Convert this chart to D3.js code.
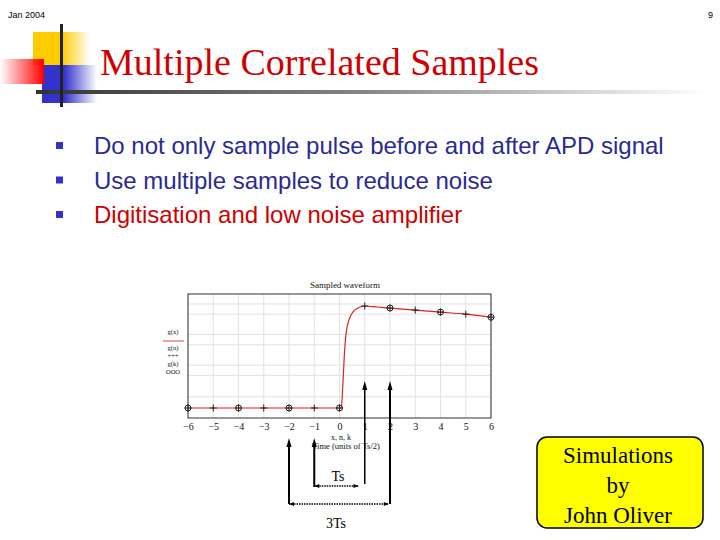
<!DOCTYPE html>
<html><head><meta charset="utf-8">
<script src="https://cdn.jsdelivr.net/npm/d3@7"></script>
<style>html,body{margin:0;padding:0;background:#fff;}svg{display:block;}</style>
</head><body>
<svg id="c" width="720" height="540"></svg>
<script>
// ---- data ----
const bullets = ["Do not only sample pulse before and after APD signal","Use multiple samples to reduce noise","Digitisation and low noise amplifier"];
const xTicks = [-6,-5,-4,-3,-2,-1,0,1,2,3,4,5,6];
const curveX = [-6, 0, 0.07, 0.13, 0.2, 0.27, 0.4, 0.53, 0.73, 1, 1.5, 2, 3, 4, 5, 6];
const curveY = [0, 0, 0, 0.22, 0.55, 0.75, 0.88, 0.94, 0.98, 1, 0.99, 0.98, 0.96, 0.94, 0.92, 0.89];
const nX = [-6,-5,-4,-3,-2,-1,0,1,2,3,4,5,6];
const nY = [0,0,0,0,0,0,0,1,0.98,0.96,0.94,0.92,0.89];
const kX = [-6,-4,-2,0,2,4,6];
const kY = [0,0,0,0,0.98,0.94,0.89];
const yGrid = [1.02,0.92,0.72,0.62,0.42,0.32,0.11];
const legendLabels = ["g(x)","g(n)","+++","g(k)","OOO"];
const boxLines = ["Simulations","by","John Oliver"];

(function(){
const svg = d3.select("#c");
const defs = svg.append("defs");
function grad(id, x1, x2, stops){
  const g = defs.append("linearGradient").attr("id", id).attr("x1",x1).attr("x2",x2).attr("y1","0").attr("y2","0");
  stops.forEach(s=>g.append("stop").attr("offset",s[0]).attr("stop-color",s[1]).attr("stop-opacity",s[2]));
}
grad("gy","0","1",[["0","#ffcc00",1],["0.5","#ffcc00",1],["1","#ffcc00",0]]);
grad("gb","0","1",[["0","#3333cc",1],["0.4","#3333cc",1],["1","#3333cc",0]]);
grad("gr","0","1",[["0","#ff0000",0],["1","#ff0000",1]]);
grad("gl","0","1",[["0","#333333",1],["0.5","#888888",1],["1","#ffffff",1]]);

// header
svg.append("text").attr("x",8).attr("y",18).attr("font-family","Liberation Sans, Arial").attr("font-size",9).text("Jan 2004");
svg.append("text").attr("x",713).attr("y",18).attr("text-anchor","end").attr("font-family","Liberation Sans, Arial").attr("font-size",9).text("9");

// decoration
svg.append("rect").attr("x",33).attr("y",32).attr("width",57).attr("height",33).attr("fill","url(#gy)");
svg.append("rect").attr("x",42).attr("y",65).attr("width",55).attr("height",38).attr("fill","url(#gb)");
svg.append("rect").attr("x",0).attr("y",59).attr("width",44).attr("height",25).attr("fill","url(#gr)");
svg.append("rect").attr("x",36).attr("y",90).attr("width",670).attr("height",4).attr("fill","url(#gl)");
svg.append("rect").attr("x",60).attr("y",24).attr("width",3).attr("height",83).attr("fill","#222");

svg.append("text").attr("x",100).attr("y",75).attr("font-family","Liberation Serif, Times New Roman").attr("font-size",38).attr("fill","#cc0000").text("Multiple Correlated Samples");

// bullets
bullets.forEach((b,i)=>{
  const yy = 154 + i*34.5;
  svg.append("rect").attr("x",56).attr("y",yy-12).attr("width",7).attr("height",7).attr("fill","#3333cc");
  svg.append("text").attr("x",94).attr("y",yy).attr("font-family","Liberation Sans, Arial").attr("font-size",24)
    .attr("fill", i<2 ? "#2b2b8f" : "#cc0000").text(b);
});

// chart
const x = d3.scaleLinear().domain([-6,6]).range([188,491]);
const y = d3.scaleLinear().domain([0,1]).range([408,306]);
const pTop = 294, pBottom = 418;
const g = svg.append("g");
g.selectAll(".vg").data(xTicks).join("line").attr("x1",d=>x(d)).attr("x2",d=>x(d)).attr("y1",pTop).attr("y2",pBottom).attr("stroke","#e2e2e2").attr("stroke-width",1);
g.selectAll(".hg").data(yGrid).join("line").attr("x1",x(-6)).attr("x2",x(6)).attr("y1",d=>y(d)).attr("y2",d=>y(d)).attr("stroke","#e2e2e2").attr("stroke-width",1);
g.append("rect").attr("x",x(-6)).attr("y",pTop).attr("width",x(6)-x(-6)).attr("height",pBottom-pTop).attr("fill","none").attr("stroke","#333").attr("stroke-width",1);

const line = d3.line().x((d,i)=>x(curveX[i])).y((d,i)=>y(curveY[i])).curve(d3.curveMonotoneX);
g.append("path").attr("d",line(curveX)).attr("fill","none").attr("stroke","#dd2222").attr("stroke-width",1.2);

nX.forEach((v,i)=>{
  const cx=x(v), cy=y(nY[i]);
  g.append("path").attr("d",`M${cx-3.5},${cy}H${cx+3.5}M${cx},${cy-3.5}V${cy+3.5}`).attr("stroke","#222").attr("stroke-width",1);
});
kX.forEach((v,i)=>{
  g.append("circle").attr("cx",x(v)).attr("cy",y(kY[i])).attr("r",3).attr("fill","none").attr("stroke","#222").attr("stroke-width",1);
});

const axis = d3.axisBottom(x).tickValues(xTicks).tickSize(0).tickFormat(d=>d<0?"\u2212"+(-d):String(d));
const ax = g.append("g").attr("transform",`translate(0,${pBottom})`).call(axis);
ax.select(".domain").remove();
ax.selectAll("text").attr("font-family","Liberation Serif, Times New Roman").attr("font-size",10).attr("fill","#111").attr("dy","0.9em").attr("y",3);

g.append("text").attr("x",345).attr("y",288).attr("text-anchor","middle").attr("font-family","Liberation Serif, Times New Roman").attr("font-size",9).attr("fill","#111").text("Sampled waveform");
g.append("text").attr("x",341).attr("y",440).attr("text-anchor","middle").attr("font-family","Liberation Serif, Times New Roman").attr("font-size",8).attr("fill","#111").text("x, n, k");
g.append("text").attr("x",346).attr("y",449).attr("text-anchor","middle").attr("font-family","Liberation Serif, Times New Roman").attr("font-size",8.5).attr("fill","#111").text("Time (units of Ts/2)");

// legend
const lf = "Liberation Serif, Times New Roman";
const legY = [334, 350, 358, 366, 374];
legendLabels.forEach((t,i)=>{
  g.append("text").attr("x",173).attr("y",legY[i]).attr("text-anchor","middle").attr("font-family",lf).attr("font-size",6.5).attr("fill","#111").text(t);
});
g.append("line").attr("x1",163).attr("x2",184).attr("y1",341).attr("y2",341).attr("stroke","#dd4444").attr("stroke-width",1);

// arrows
function varrow(xv, y1, y2, w){
  const px = x(xv);
  svg.append("line").attr("x1",px).attr("x2",px).attr("y1",y1+4).attr("y2",y2).attr("stroke","#000").attr("stroke-width",w);
  svg.append("path").attr("d",`M${px-2.5},${y1+9}L${px},${y1}L${px+2.5},${y1+9}Z`).attr("fill","#000");
}
varrow(1,381,484,1.5);
varrow(2,381,504,2);
varrow(-1,438,487,2);
varrow(-2,438,504,2);
function harrow(x1,x2,yy){
  svg.append("line").attr("x1",x1).attr("x2",x2).attr("y1",yy).attr("y2",yy).attr("stroke","#000").attr("stroke-width",1.5).attr("stroke-dasharray","1.5,1");
  svg.append("path").attr("d",`M${x1},${yy}l5,-2v4Z`).attr("fill","#000");
  svg.append("path").attr("d",`M${x2},${yy}l-5,-2v4Z`).attr("fill","#000");
}
harrow(x(-1),x(0.75),486);
harrow(x(-2),x(1.95),504);
svg.append("text").attr("x",338).attr("y",481).attr("text-anchor","middle").attr("font-family",lf).attr("font-size",14).text("Ts");
svg.append("text").attr("x",336).attr("y",528).attr("text-anchor","middle").attr("font-family",lf).attr("font-size",14).text("3Ts");

// yellow box
svg.append("rect").attr("x",537).attr("y",437).attr("width",166).attr("height",91).attr("rx",10).attr("fill","#ffff00").attr("stroke","#000").attr("stroke-width",1.5);
boxLines.forEach((t,i)=>{
  svg.append("text").attr("x",618).attr("y",463+i*30).attr("text-anchor","middle").attr("font-family",lf).attr("font-size",23).text(t);
});
})();
</script>
</body></html>
